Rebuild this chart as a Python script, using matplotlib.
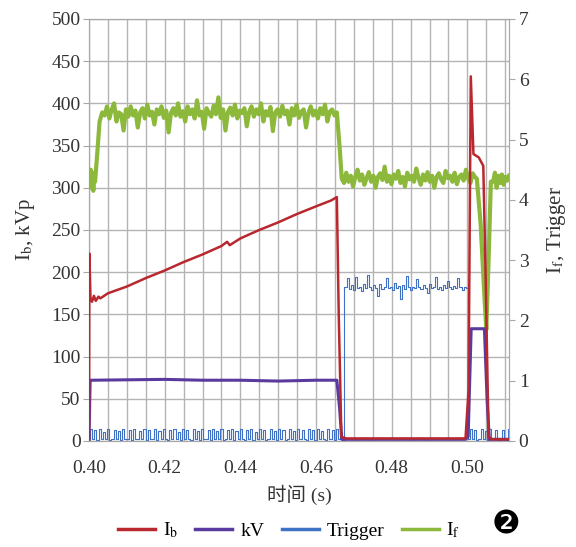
"""
Beam current / kV / trigger / filament current vs time
"""
import numpy as np
import matplotlib
matplotlib.use('Agg')
import matplotlib.pyplot as plt
from matplotlib.ticker import MultipleLocator

plt.rcParams['font.family'] = ['Liberation Serif', 'Noto Sans CJK SC']
plt.rcParams['mathtext.fontset'] = 'stix'

# ---- data ----
# I_b (left axis)
ib_t = [0.4000, 0.4001, 0.4004, 0.4008, 0.4013, 0.4018, 0.4025, 0.4030, 0.4050, 0.4100,
        0.4150, 0.4200, 0.4250, 0.4300, 0.4350, 0.4365, 0.4372, 0.4400, 0.4450, 0.4500,
        0.4550, 0.4600, 0.4640, 0.4655, 0.4660, 0.4667, 0.4680, 0.4750, 0.4850, 0.4950,
        0.4995, 0.5003, 0.5009, 0.5016, 0.5030, 0.5042, 0.5048, 0.5056, 0.5065, 0.5080,
        0.5110]
ib = [0, 222, 168, 165, 172, 166, 171, 169, 175, 183,
      193, 202, 212, 221, 231, 236, 232, 240, 250, 259,
      269, 278, 285, 289, 150, 5, 3, 3, 3, 3,
      3, 60, 432, 340, 336, 326, 200, 5, 2, 2,
      2]

# kV (left axis)
kv_t = [0.4000, 0.4003, 0.4006, 0.4200, 0.4300, 0.4400, 0.4500, 0.4600, 0.4655, 0.4662,
        0.4668, 0.4800, 0.4995, 0.5002, 0.5010, 0.5045, 0.5052, 0.5058, 0.5110]
kv = [0, 72, 72, 73, 72, 72, 71, 72, 72, 40,
      2, 2, 2, 5, 133, 133, 50, 2, 2]

# I_f (right axis)
if_start = [4.40, 4.20, 4.50, 4.30, 4.45, 4.15, 4.40, 4.30]
if_high = [5.45, 5.40, 5.55, 5.35, 5.50, 5.60, 5.30, 5.45, 5.42, 5.15, 5.50, 5.38, 5.55, 5.40, 5.48, 5.20, 5.45, 5.52, 5.35, 5.58,
           5.40, 5.46, 5.25, 5.50, 5.42, 5.55, 5.36, 5.48, 5.12, 5.44, 5.52, 5.40, 5.60, 5.38, 5.47, 5.30, 5.55, 5.42, 5.50, 5.35,
           5.65, 5.40, 5.46, 5.18, 5.52, 5.44, 5.38, 5.56, 5.42, 5.70, 5.36, 5.50, 5.15, 5.45, 5.53, 5.40, 5.58, 5.35, 5.48, 5.44,
           5.52, 5.22, 5.46, 5.55, 5.38, 5.50, 5.42, 5.60, 5.30, 5.47, 5.40, 5.54, 5.14, 5.45, 5.50, 5.38, 5.56, 5.42, 5.48, 5.25,
           5.52, 5.40, 5.58, 5.36, 5.46, 5.50, 5.20, 5.44, 5.55, 5.40, 5.48, 5.35, 5.52, 5.42, 5.58, 5.30, 5.46, 5.50, 5.40, 5.45]
if_low = [4.35, 4.28, 4.45, 4.30, 4.40, 4.22, 4.38, 4.50, 4.32, 4.42, 4.25, 4.36, 4.46, 4.30, 4.40, 4.20, 4.38, 4.44, 4.33, 4.55,
          4.30, 4.40, 4.26, 4.42, 4.35, 4.48, 4.28, 4.38, 4.22, 4.45, 4.34, 4.40, 4.30, 4.52, 4.36, 4.25, 4.42, 4.32, 4.46, 4.30,
          4.40, 4.20, 4.38, 4.44, 4.34, 4.28, 4.48, 4.36, 4.40, 4.30, 4.45, 4.26, 4.38, 4.42, 4.32, 4.50, 4.35, 4.28, 4.44, 4.38]
if_dip_t = [0.5025, 0.5035, 0.5045, 0.5050, 0.5056, 0.5062]
if_dip = [4.35, 3.60, 2.40, 1.85, 3.00, 4.30]
if_end = [4.30, 4.45, 4.20, 4.40, 4.28, 4.42, 4.25, 4.38, 4.32, 4.40]

# Trigger (right axis)
trig_a = [0.03, 0.20, 0.03, 0.18, 0.02, 0.20, 0.04, 0.15, 0.03, 0.20, 0.02, 0.03, 0.19, 0.03, 0.17, 0.02, 0.20, 0.03, 0.03, 0.18,
          0.02, 0.20, 0.04, 0.03, 0.16, 0.03, 0.20, 0.02, 0.18, 0.03, 0.03, 0.20, 0.02, 0.17, 0.03, 0.20, 0.03, 0.02, 0.19, 0.03,
          0.20, 0.03, 0.15, 0.02, 0.20, 0.03, 0.18, 0.03, 0.02, 0.20, 0.03, 0.17, 0.02, 0.20, 0.04, 0.03, 0.19, 0.02, 0.20, 0.03,
          0.16, 0.03, 0.20, 0.02, 0.03, 0.18, 0.03, 0.20, 0.02, 0.17, 0.03, 0.20, 0.03, 0.02, 0.19, 0.03, 0.20, 0.02, 0.15, 0.03,
          0.20, 0.03, 0.18, 0.02, 0.03, 0.20, 0.03, 0.17, 0.02, 0.20, 0.03, 0.19, 0.02, 0.03, 0.20, 0.03, 0.16, 0.02, 0.20, 0.03,
          0.18, 0.03, 0.02, 0.20, 0.03, 0.19, 0.02, 0.20, 0.03, 0.17, 0.03, 0.02, 0.20, 0.03, 0.18, 0.02, 0.20, 0.03, 0.15, 0.02]
trig_b = [2.55, 2.70, 2.52, 2.58, 2.50, 2.72, 2.54, 2.56, 2.48, 2.60, 2.53, 2.75, 2.55, 2.50, 2.58, 2.54, 2.40, 2.60, 2.52, 2.56,
          2.70, 2.53, 2.55, 2.50, 2.62, 2.54, 2.57, 2.35, 2.58, 2.52, 2.74, 2.55, 2.50, 2.56, 2.53, 2.68, 2.55, 2.52, 2.58, 2.54,
          2.45, 2.60, 2.53, 2.56, 2.72, 2.52, 2.55, 2.50, 2.58, 2.54, 2.66, 2.55, 2.52, 2.57, 2.53, 2.70, 2.55, 2.50, 2.56, 2.54]
trig_c = [0.03, 0.20, 0.03, 0.18, 0.02, 0.03, 0.20, 0.03, 0.17, 0.02, 0.20, 0.03, 0.03, 0.19, 0.02, 0.03, 0.18, 0.03, 0.02, 0.20]

# legend labels and axis ticks
labels = ['I$_\\mathrm{b}$', 'kV', 'Trigger', 'I$_\\mathrm{f}$']
x_ticks = [0.40, 0.42, 0.44, 0.46, 0.48, 0.50]
left_ticks = list(range(0, 501, 50))
right_ticks = list(range(0, 8))

c_ib = '#b8282e'
c_kv = '#5a3a9e'
c_trig = '#3f72c4'
c_if = '#8cb83c'

# sample time bases for the noisy traces (segments between the read transitions)
t_if = np.concatenate([
    np.linspace(0.4000, 0.4016, len(if_start)),
    [0.4021, 0.4028],
    np.linspace(0.4035, 0.4655, len(if_high)),
    [0.4662],
    np.linspace(0.4668, 0.5020, len(if_low)),
    if_dip_t,
    np.linspace(0.5068, 0.5110, len(if_end)),
])
v_if = np.concatenate([if_start, [4.70, 5.30], if_high, [4.90], if_low, if_dip, if_end])

t_trig = np.concatenate([
    np.linspace(0.4000, 0.4672, len(trig_a)),
    np.linspace(0.4678, 0.4998, len(trig_b)),
    np.linspace(0.5004, 0.5110, len(trig_c)),
])
v_trig = np.concatenate([trig_a, trig_b, trig_c])

fig = plt.figure(figsize=(5.76, 5.47), dpi=100)
ax = fig.add_axes([0.1545, 0.1938, 0.7292, 0.7715])
ax2 = ax.twinx()

l_trig, = ax2.plot(t_trig, v_trig, color=c_trig, lw=0.8, drawstyle='steps-mid', zorder=2)
l_if, = ax2.plot(t_if, v_if, color=c_if, lw=3.0, zorder=3)
l_kv, = ax2.plot(kv_t, np.array(kv) * 7 / 500, color=c_kv, lw=2.2, zorder=4)
l_ib, = ax2.plot(ib_t, np.array(ib) * 7 / 500, color=c_ib, lw=1.8, zorder=5)

ax.set_xlim(0.40, 0.511)
ax.set_ylim(0, 500)
ax2.set_ylim(0, 7)

ax.set_xticks(x_ticks)
ax.set_xticklabels([f'{v:.2f}' for v in x_ticks])
ax.xaxis.set_minor_locator(MultipleLocator(0.005))
ax.set_yticks(left_ticks)
ax2.set_yticks(right_ticks)

ax.grid(True, which='both', axis='x', color='#b4b4b4', lw=1.0)
ax.grid(True, which='major', axis='y', color='#b4b4b4', lw=1.0)
ax.set_axisbelow(True)

for a in (ax, ax2):
    for s in a.spines.values():
        s.set_color('#a8a8a8')
    a.tick_params(axis='both', which='both', colors='#a8a8a8', labelcolor='#333333',
                  labelsize=14, length=4)
ax.tick_params(axis='x', which='both', length=0, pad=14)
ax.tick_params(axis='y', pad=2)
ax2.tick_params(axis='y', pad=3)

ax.set_xlabel('时间 (s)', fontsize=14, color='#333333', labelpad=5)
ax.set_ylabel('I$_\\mathrm{b}$, kVp', fontsize=15, color='#333333', labelpad=10)
ax2.set_ylabel('I$_\\mathrm{f}$, Trigger', fontsize=15, color='#333333', labelpad=12)

leg = fig.legend([l_ib, l_kv, l_trig, l_if], labels, loc='center', bbox_to_anchor=(0.502, 0.030),
                 ncol=4, frameon=False, fontsize=14, handlelength=1.9, columnspacing=0.9,
                 handletextpad=0.4)
for h in leg.get_lines():
    h.set_linewidth(2.5)
fig.text(0.879, 0.040, '\u2777', fontsize=23, family='DejaVu Sans', ha='center', va='center')

plt.savefig('out.png', dpi=100)
